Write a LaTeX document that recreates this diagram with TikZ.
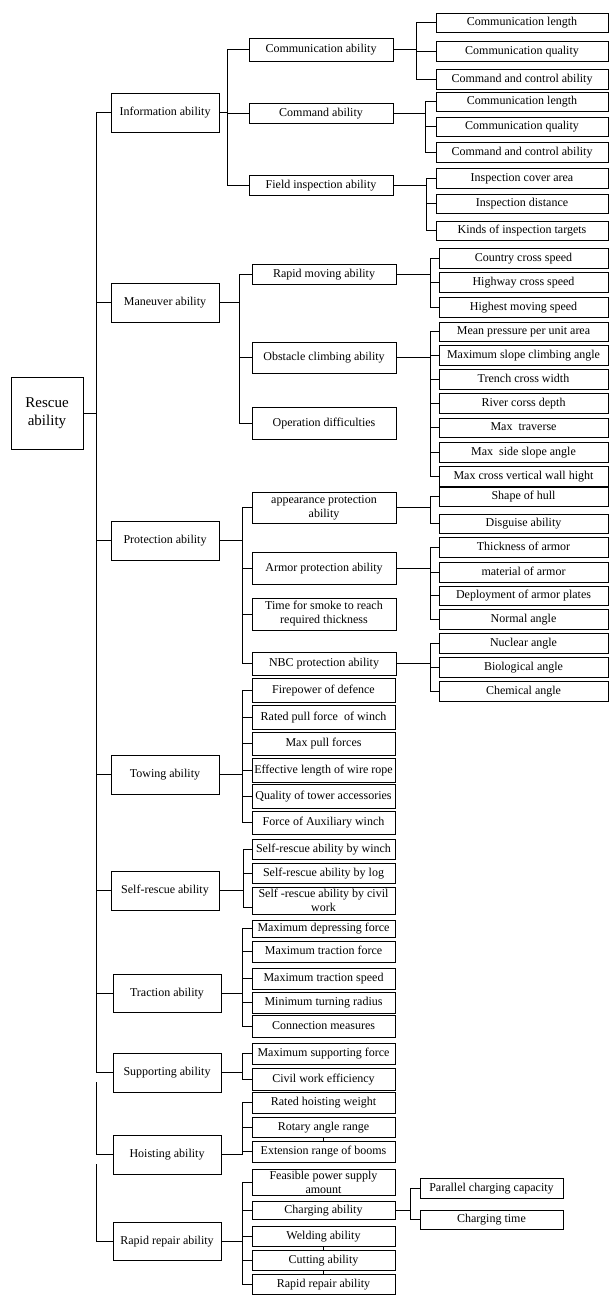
\documentclass[tikz,border=0pt]{standalone}
\usepackage{fontspec}
\setmainfont{Liberation Serif}
\begin{document}
\begin{tikzpicture}[x=1pt,y=-1pt,line width=0.75pt,
  box/.style={draw,inner sep=0pt,align=center,text height=8.6pt,text depth=2.6pt,font=\fontsize{12}{14}\selectfont},
  box2/.style={draw,inner sep=0pt,align=center,font=\fontsize{12}{14}\selectfont},
  rootbox/.style={box2,font=\fontsize{15}{18}\selectfont}]
\useasboundingbox (0,0) rectangle (612,1304);
\newcommand\bx[7][box]{\node[#1,minimum width={#5-#3},minimum height={#6-#4}] (#2) at ({(#3+#5)/2},{(#4+#6)/2}) {#7};}
\newcommand\branch[3]{\coordinate (v#1) at (#2,0);
  \foreach \c in {#3} {\draw (#1.east) -- (#1.east -| v#1) |- (\c.west);}}
% root
\bx[rootbox]{root}{11}{377}{83}{449}{Rescue\\ability}
% level 1
\bx{info}{111}{93}{219}{132}{Information ability}
\bx{maneuver}{111}{283}{219}{322}{Maneuver ability}
\bx{protection}{111}{521}{219}{560}{Protection ability}
\bx{towing}{111}{755}{219}{794}{Towing ability}
\bx{selfrescue}{111}{871}{219}{910}{Self-rescue ability}
\bx{traction}{113}{974}{221}{1012}{Traction ability}
\bx{supporting}{113}{1053}{221}{1092}{Supporting ability}
\bx{hoisting}{113}{1135}{221}{1174}{Hoisting ability}
\bx{rapidrep}{113}{1222}{221}{1260}{Rapid repair ability}
% information
\bx{commab}{249}{38}{393}{61}{Communication ability}
\bx{cmdab}{249}{103}{393}{123}{Command ability}
\bx{field}{249}{175}{393}{195}{Field inspection ability}
\bx{c1}{436}{13}{608}{32}{Communication length}
\bx{c2}{436}{41}{608}{61}{Communication quality}
\bx{c3}{436}{69}{608}{89}{Command and control ability}
\bx{d1}{436}{92}{608}{111}{Communication length}
\bx{d2}{436}{117}{608}{136}{Communication quality}
\bx{d3}{436}{142}{608}{162}{Command and control ability}
\bx{f1}{436}{168}{608}{188}{Inspection cover area}
\bx{f2}{436}{194}{608}{213}{Inspection distance}
\bx{f3}{436}{221}{608}{240}{Kinds of inspection targets}
% maneuver
\bx{rapidmov}{252}{264}{396}{284}{Rapid moving ability}
\bx{obstacle}{252}{342}{396}{373}{Obstacle climbing ability}
\bx{opdiff}{252}{407}{396}{439}{Operation difficulties}
\bx{r1}{439}{248}{608}{268}{Country cross speed}
\bx{r2}{439}{272}{608}{292}{Highway cross speed}
\bx{r3}{439}{297}{608}{317}{Highest moving speed}
\bx{o1}{439}{322}{608}{341}{Mean pressure per unit area}
\bx{o2}{439}{345}{608}{365}{Maximum slope climbing angle}
\bx{o3}{439}{369}{608}{389}{Trench cross width}
\bx{o4}{439}{393}{608}{413}{River corss depth}
\bx{o5}{439}{418}{608}{437}{Max\ \ traverse}
\bx{o6}{439}{442}{608}{462}{Max\ \ side slope angle}
\bx{o7}{439}{466}{608}{486}{Max cross vertical wall hight}
% protection
\bx[box2]{appear}{252}{492}{396}{523}{appearance protection\\ability}
\bx{armor}{252}{552}{396}{584}{Armor protection ability}
\bx[box2]{smoke}{252}{598}{396}{630}{Time for smoke to reach\\required thickness}
\bx{nbc}{252}{652}{396}{675}{NBC protection ability}
\bx{a1}{439}{487}{608}{506}{Shape of hull}
\bx{a2}{439}{514}{608}{533}{Disguise ability}
\bx{m1}{439}{537}{608}{557}{Thickness of armor}
\bx{m2}{439}{562}{608}{582}{material of armor}
\bx{m3}{439}{586}{608}{605}{Deployment of armor plates}
\bx{m4}{439}{609}{608}{629}{Normal angle}
\bx{n1}{439}{633}{608}{653}{Nuclear angle}
\bx{n2}{439}{657}{608}{677}{Biological angle}
\bx{n3}{439}{681}{608}{701}{Chemical angle}
% towing
\bx{t1}{252}{678}{395}{702}{Firepower of defence}
\bx{t2}{252}{705}{395}{729}{Rated pull force\ \ of winch}
\bx{t3}{252}{732}{395}{755}{Max pull forces}
\bx{t4}{252}{758}{395}{782}{Effective length of wire rope}
\bx{t5}{252}{784}{395}{808}{Quality of tower accessories}
\bx{t6}{252}{811}{395}{834}{Force of Auxiliary winch}
% self-rescue
\bx{s1}{252}{839}{395}{859}{Self-rescue ability by winch}
\bx{s2}{252}{863}{395}{883}{Self-rescue ability by log}
\bx[box2]{s3}{252}{887}{395}{914}{Self -rescue ability by civil\\work}
% traction
\bx{tr1}{252}{920}{395}{937}{Maximum depressing force}
\bx{tr2}{252}{941}{395}{962}{Maximum traction force}
\bx{tr3}{252}{968}{395}{989}{Maximum traction speed}
\bx{tr4}{252}{992}{395}{1013}{Minimum turning radius}
\bx{tr5}{252}{1015}{395}{1037}{Connection measures}
% supporting
\bx{sp1}{252}{1043}{395}{1064}{Maximum supporting force}
\bx{sp2}{252}{1068}{395}{1090}{Civil work efficiency}
% hoisting
\bx{h1}{252}{1092}{395}{1113}{Rated hoisting weight}
\bx{h2}{252}{1117}{395}{1137}{Rotary angle range}
\bx{h3}{252}{1141}{395}{1162}{Extension range of booms}
% rapid repair
\bx[box2]{rr1}{252}{1169}{395}{1195}{Feasible power supply\\amount}
\bx{rr2}{252}{1201}{395}{1219}{Charging ability}
\bx{rr3}{252}{1226}{395}{1246}{Welding ability}
\bx{rr4}{252}{1250}{395}{1270}{Cutting ability}
\bx{rr5}{252}{1274}{395}{1294}{Rapid repair ability}
\bx{ch1}{420}{1178}{563}{1198}{Parallel charging capacity}
\bx{ch2}{420}{1210}{563}{1229}{Charging time}
% trunk
\coordinate (vroot) at (96,0);
\draw (root.east) -- (root.east -| vroot);
\draw (info.west) -- (info.west -| vroot) -- (supporting.west -| vroot) -- (supporting.west);
\foreach \c in {maneuver,protection,towing,selfrescue,traction} {\draw (\c.west) -- (\c.west -| vroot);}
\coordinate (tb) at (96,1082);
\draw (tb) |- (hoisting.west);
\coordinate (tc) at (96,1164);
\draw (tc) |- (rapidrep.west);
% branches
\branch{info}{227}{commab,cmdab,field}
\branch{maneuver}{239}{rapidmov,obstacle,opdiff}
\branch{protection}{242}{appear,armor,smoke,nbc}
\branch{towing}{242}{t1,t2,t3,t4,t5,t6}
\branch{selfrescue}{243}{s1,s2}
\draw (selfrescue.east) -- (selfrescue.east -| vselfrescue) |- ([yshift=-7pt]s3.west);
\branch{traction}{242}{tr1,tr2,tr3,tr4,tr5}
\branch{supporting}{242}{sp1,sp2}
\branch{hoisting}{242}{h1,h2,h3}
\branch{rapidrep}{242}{rr1,rr2,rr3,rr4,rr5}
\branch{commab}{416}{c1,c2,c3}
\branch{cmdab}{425}{d1,d2,d3}
\branch{field}{426}{f1,f2,f3}
\branch{rapidmov}{430}{r1,r2,r3}
\branch{obstacle}{430}{o1,o2,o3,o4,o5,o6,o7}
\branch{appear}{430}{a1,a2}
\branch{armor}{430}{m1,m2,m3,m4}
\branch{nbc}{430}{n1,n2,n3}
\branch{rr2}{410}{ch1,ch2}
% small joints between boxes
\draw (h2.south) -- (h3.north);
\draw (rr3.south) -- (rr4.north);
\draw (rr4.south) -- (rr5.north);
\end{tikzpicture}
\end{document}
